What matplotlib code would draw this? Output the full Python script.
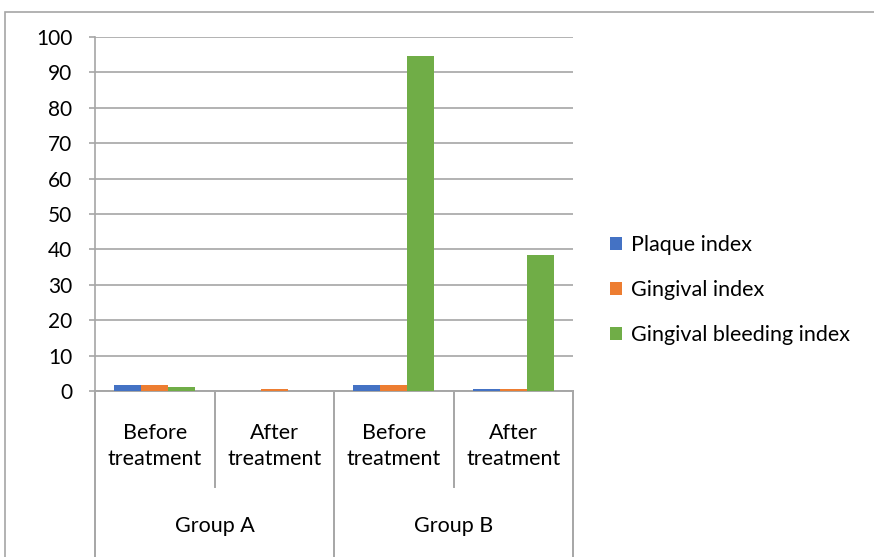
import matplotlib.pyplot as plt
import matplotlib.transforms as mtransforms
from matplotlib.patches import Rectangle
import numpy as np

# data
stages = ["Before\ntreatment", "After\ntreatment", "Before\ntreatment", "After\ntreatment"]
groups = ["Group A", "Group B"]
series = ["Plaque index", "Gingival index", "Gingival bleeding index"]
plaque = [1.8, 0.0, 1.8, 0.6]
gingival = [1.8, 0.6, 1.8, 0.6]
bleeding = [1.2, 0.0, 94.5, 38.4]
colors = ["#4472C4", "#ED7D31", "#70AD47"]

font = "Lato"
grid_col = "#a6a6a6"

fig = plt.figure(figsize=(8.74, 5.57), dpi=100)
W, H = 874, 557
ax = fig.add_axes([95 / W, 1 - 391 / H, (573 - 95) / W, (391 - 37) / H])

# outer chart border
fig.patches.append(Rectangle((5 / W, -0.1), 1.0, 1 - 12 / H + 0.1, transform=fig.transFigure,
                             fill=False, edgecolor=grid_col, linewidth=1.2))

x = np.arange(len(stages))
bw = 0.225
for i, (vals, name) in enumerate(zip([plaque, gingival, bleeding], series)):
    ax.bar(x + (i - 1) * bw, vals, width=bw, color=colors[i], label=name, zorder=3)

ax.set_xlim(-0.5, len(stages) - 0.5)
ax.set_ylim(0, 100)
ax.set_yticks(np.arange(0, 101, 10))
ax.yaxis.grid(True, color=grid_col, linewidth=1.2, zorder=0)
ax.set_axisbelow(True)
for s in ["top", "right", "bottom"]:
    ax.spines[s].set_visible(False)
ax.spines["left"].set_color(grid_col)
ax.spines["left"].set_linewidth(1.2)
ax.tick_params(axis="y", length=4.3, color=grid_col, width=1.2, pad=12)
ax.tick_params(axis="x", length=0, labelbottom=False)
for t in ax.get_yticklabels():
    t.set_fontfamily(font)
    t.set_fontsize(15)
    t.set_color("#000000")

# category axis drawn below the plot
trans = mtransforms.blended_transform_factory(ax.transData, ax.transAxes)
ph = (391 - 37)
def ay(py):
    return (391 - py) / ph

ax.plot([-0.5, len(stages) - 0.5], [0, 0], transform=trans, color=grid_col, lw=1.4, clip_on=False)
for b in np.arange(-0.5, len(stages), 1.0):
    bottom = 600 if b in (-0.5, 1.5, 3.5) else 487
    ax.plot([b, b], [ay(391), ay(bottom)], transform=trans, color=grid_col, lw=1.4, clip_on=False)
for xi, s in zip(x, stages):
    ax.text(xi, ay(446), s, transform=trans, ha="center", va="center", fontsize=15.5,
            family=font, linespacing=1.42)
for gi, g in enumerate(groups):
    ax.text(gi * 2 + 0.5, ay(526), g, transform=trans, ha="center", va="center",
            fontsize=15.5, family=font)

leg = ax.legend(loc="center left", bbox_to_anchor=(591 / W, 1 - 290 / H), bbox_transform=fig.transFigure,
                frameon=False, prop={"family": font, "size": 15.5}, handlelength=0.55,
                handleheight=0.55, handletextpad=0.4, labelspacing=1.15)

fig.savefig("out.png", dpi=100)
